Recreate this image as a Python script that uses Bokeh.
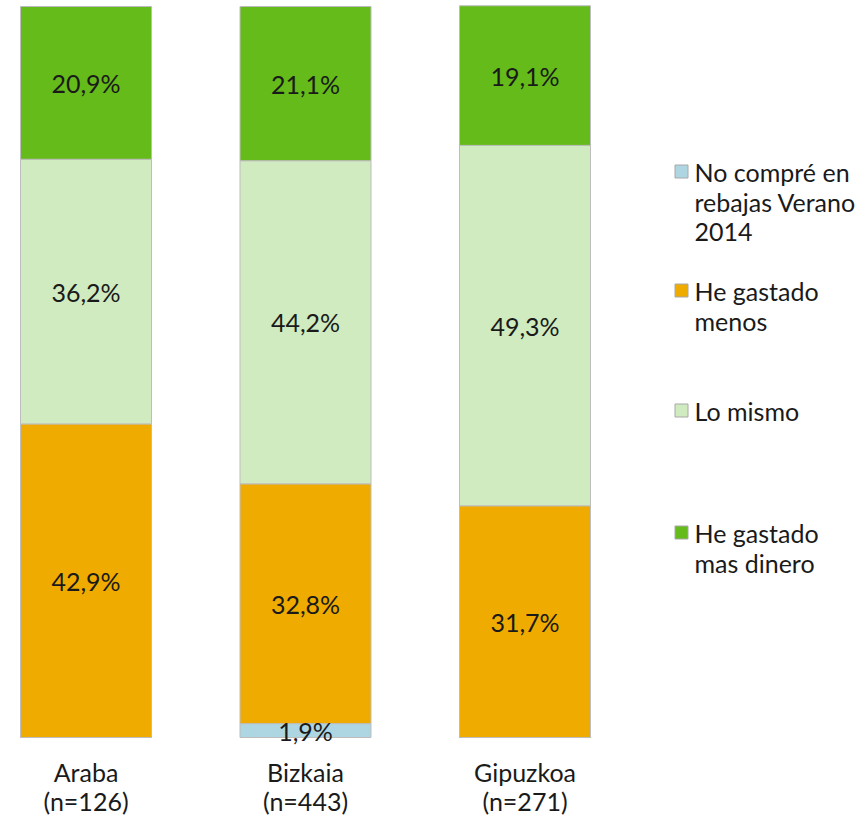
from bokeh.plotting import figure
from bokeh.models import Range1d, ColumnDataSource
from bokeh.core.properties import value
from bokeh.embed import file_html
from bokeh.resources import INLINE

categories = ["Araba", "Bizkaia", "Gipuzkoa"]
sample_n = [126, 443, 271]
series = ["No compré en rebajas Verano 2014", "He gastado menos", "Lo mismo", "He gastado mas dinero"]
legend_lines = [["No compré en", "rebajas Verano", "2014"], ["He gastado", "menos"], ["Lo mismo"], ["He gastado", "mas dinero"]]
no_compre = [0.0, 1.9, 0.0]
menos = [42.9, 32.8, 31.7]
mismo = [36.2, 44.2, 49.3]
mas = [20.9, 21.1, 19.1]
colors = ["#ADD5E2", "#F0AB00", "#D0EBBF", "#64BB19"]

FONT = value("Lato")

W, H = 866, 816
top_px, bot_px = 6, 737
ppu = (bot_px - top_px) / 100.0
step = 219.5
c0 = 85.5
p = figure(width=W, height=H, output_backend="svg", toolbar_location=None,
           x_range=Range1d(-c0 / step, (W - c0) / step),
           y_range=Range1d(-(H - bot_px) / ppu, 100 + top_px / ppu),
           min_border=0, min_border_left=0, min_border_right=0, min_border_top=0, min_border_bottom=0)
p.axis.visible = False
p.grid.visible = False
p.outline_line_color = None
p.background_fill_color = "white"

xs = list(range(len(categories)))
keys = ["no_compre", "menos", "mismo", "mas"]
data = dict(x=xs, no_compre=no_compre, menos=menos, mismo=mismo, mas=mas)
src = ColumnDataSource(data)
p.vbar_stack(keys, x="x", width=131 / step, source=src, fill_color=colors,
             line_color="#BDBDBD", line_width=1)

# segment labels
lx, ly, lt = [], [], []
for i in xs:
    base = 0.0
    for arr in (no_compre, menos, mismo, mas):
        v = arr[i]
        if v > 0:
            lx.append(i)
            ly.append(base + v / 2)
            lt.append(f"{v:.1f}%".replace(".", ","))
        base += v
p.text(x=lx, y=ly, text=lt, text_align="center", text_baseline="middle",
       text_font=FONT, text_font_size="25px", text_color="#1a1a1a")

def px2y(px):
    return (bot_px - px) / ppu

# category labels
cx, cy, ct = [], [], []
for i, (c, n) in enumerate(zip(categories, sample_n)):
    cx += [i, i]
    cy += [px2y(771), px2y(800)]
    ct += [c, f"(n={n})"]
p.text(x=cx, y=cy, text=ct, text_align="center", text_baseline="middle",
       text_font=FONT, text_font_size="25px", text_color="#1a1a1a")

# legend
first_px = [171, 290, 410, 532]
line_h = 30
mx = (681 - c0) / step
tx = (694 - c0) / step
p.scatter(x=[mx] * 4, y=[px2y(v) for v in first_px], marker="square", size=13,
          fill_color=colors, line_color="#A8A8A8", line_width=1)
gx, gy, gt = [], [], []
for lines, fp in zip(legend_lines, first_px):
    for k, ln in enumerate(lines):
        gx.append(tx)
        gy.append(px2y(fp + k * line_h))
        gt.append(ln)
p.text(x=gx, y=gy, text=gt, text_align="left", text_baseline="middle",
       text_font=FONT, text_font_size="25px", text_color="#1a1a1a")

open("out.html", "w").write(file_html(p, INLINE))
